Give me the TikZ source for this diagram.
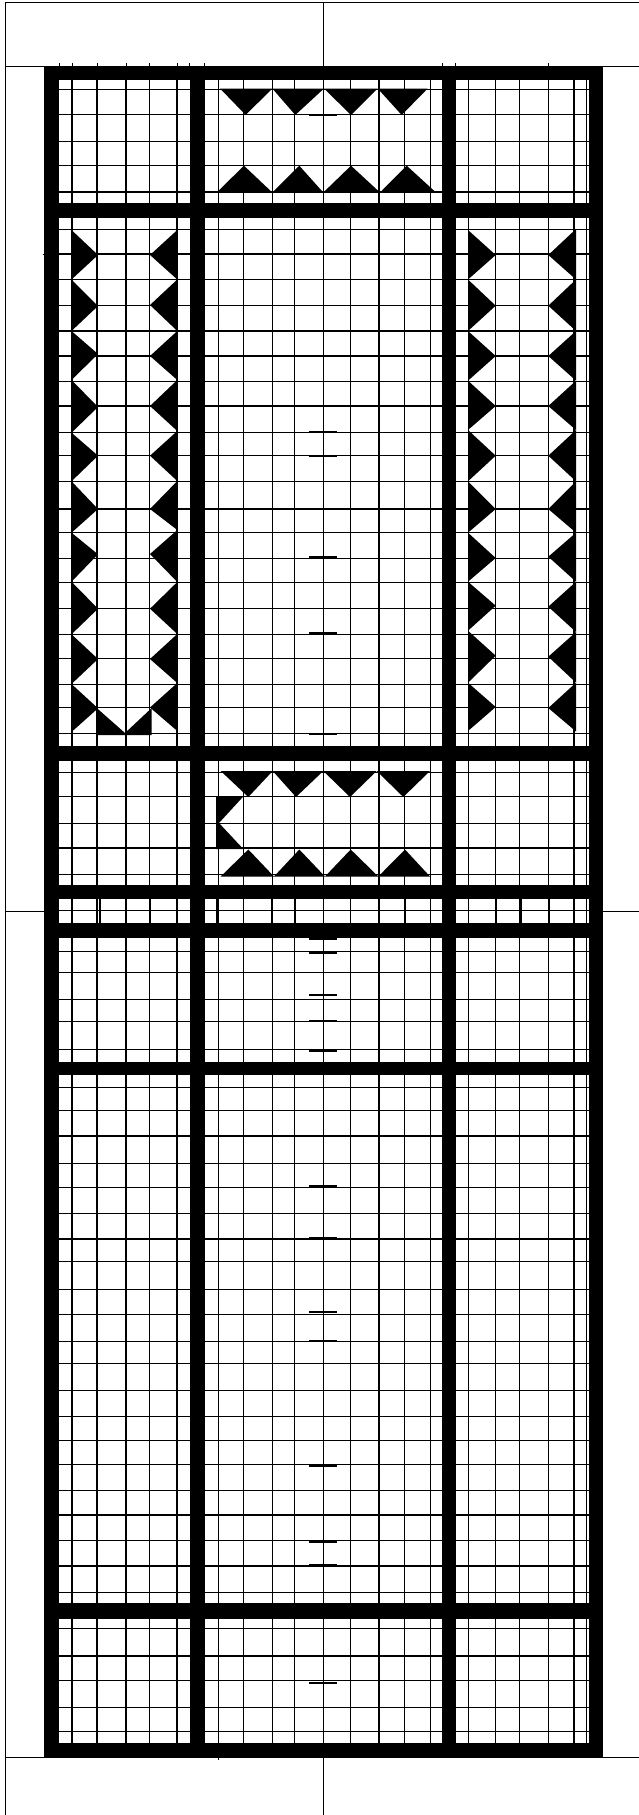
\documentclass[tikz,border=0pt]{standalone}
\usepackage{tikz}

\begin{document}
\begin{tikzpicture}[x=1pt,y=-1pt,
        frameline/.style={draw=black,line width=1.0pt},
        gridline/.style={draw=black,line width=1.3pt},
        band/.style={fill=black},
        wedge/.style={fill=black},
        shorttick/.style={draw=black,line width=1.9pt},
        shifted/.style={draw=black,line width=1.6pt}
      ]
        \useasboundingbox (0,0) rectangle (639,1815);

        % Outer frame and its cross lines.
        \draw[frameline] (639,2.5) -- (5,2.5) -- (5,1815);
        \draw[frameline] (5,66) -- (639,66);
        \draw[frameline] (5,911) -- (44,911);
        \draw[frameline] (603,911) -- (639,911);
        \draw[frameline] (5,1757) -- (639,1757);
        \draw[frameline] (323.3,2.5) -- (323.3,66);
        \draw[frameline] (323.3,1757) -- (323.3,1815);

        % Thin grid, vertical lines.
        \foreach \xv in {72,97,126,149.7,177,218.5,243.7,272.3,294.7,323.3,350.7,379,404.7,430.3,468.3,495.7,519.3,548.3,574,586.7}
          \draw[gridline] (\xv,66) -- (\xv,1757);

        % Thin grid, horizontal lines.
        \foreach \yh in {89.7,114.7,141.7,165.7,192,
            229.3,254,279.3,305.5,331,356,381.3,406,432.7,455.7,481.3,509,532.7,558.7,582.7,608.7,634.3,658.5,684.2,707.2,733.6,
            772.3,796.3,823.7,848,874.3,910.5,
            951.3,972.7,999.7,1021.7,1049.3,
            1087.3,1110.3,1136,1163.7,1187.7,1213.3,1239,1261.8,1289.3,1314.3,1341.7,1363.7,1390.7,1416.7,1440.7,1464.7,1490.7,1515,1540.7,1566,1592.3,
            1628.7,1656,1680.3,1707.3,1731.7}
          \draw[gridline] (59,\yh) -- (589,\yh);

        % Short dark dashes around the centre line.
        \foreach \yt in {115.5,253.5,431.5,456.5,557.3,633,734,939,952.7,995,1021,1051,1186.3,1237.7,1312,1340.7,1466.3,1542.3,1565,1656.5,1683,1731.5}
          \draw[shorttick] (309,\yt) -- (337,\yt);

        % Slightly shifted verticals in the narrow row.
        \foreach \xs in {100,125.5,150,217,272,295,379,405,496.5,521,549,574}
          \draw[shifted] (\xs,898) -- (\xs,924);

        % Little overshoots at the border.
        \foreach \xs in {59,72,97,126,149.7,177,189.7,204,442.7,455.3,548}
          \draw[frameline] (\xs,63) -- (\xs,66);
        \draw[frameline] (42.5,254) -- (44,254);
        \draw[frameline] (218.3,1757) -- (218.3,1759.5);

        % Heavy bars.
        \foreach \xa/\xb in {44/59,189.7/205,442.3/456.3,588.7/602.7}
          \fill[band] (\xa,65.7) rectangle (\xb,1757.3);
        \foreach \ya/\yb in {65.7/80,203.3/218.3,746/760.7,885.3/898.7,923.3/938,1061.5/1075.3,1602.5/1618.7,1742.7/1757.3}
          \fill[band] (44,\ya) rectangle (602.7,\yb);

        % Upper motif.
        \foreach \xa/\xm/\xb in {220/245.7/272.3,272.3/295.3/324,324/351/377.7,377.7/401.7/427.7}
          \fill[wedge] (\xa,88.5) -- (\xm,115) -- (\xb,88.5) -- cycle;
        \foreach \xa/\xm/\xb in {216.7/244/272.3,272.3/299.3/323.3,323.3/351/380,380/406.7/436}
          \fill[wedge] (\xa,192.5) -- (\xm,165.7) -- (\xb,192.5) -- cycle;

        % Left motif.
        \foreach \ya/\ym/\yb in {230/255/279.5,279.5/306/331,331/354/380,380/407/432.7,432.7/455.7/481.3,481.3/509/532.7,532.7/554.3/581.7,581.7/608.7/634.3,634.3/659/684,684/708.3/732}
          \fill[wedge] (71.5,\ya) -- (98,\ym) -- (71.5,\yb) -- cycle;
        \foreach \ya/\ym/\yb in {230/255/279.5,279.5/305/331,331/356/380,380/406/431,431/455.7/481,481/509/530,530/554/582,582/608.7/634,634/659/683,683/707.5/731}
          \fill[wedge] (177.3,\ya) -- (150,\ym) -- (177.3,\yb) -- cycle;
        \fill[wedge] (96.7,708) -- (125,733) -- (151.7,708) -- (151.7,735) -- (96.7,735) -- cycle;

        % Right motif.
        \foreach \ya/\ym/\yb in {230/255/279.5,279.5/305.7/331,331/356/380.7,380.7/406/430,430/455.7/481.3,481.3/509/532.7,532.7/558/581.7,581.7/605.7/630.7,630.7/655.7/682.7,682.7/707/731}
          \fill[wedge] (468,\ya) -- (495.7,\ym) -- (468,\yb) -- cycle;
        \foreach \ya/\ym/\yb in {229/255/279.5,279.5/305.7/331,331/356/380.7,380.7/406/430,430/455.7/481.3,481.3/509/532.7,532.7/556.7/581.7,581.7/606.7/632,632/656.7/682.7,682.7/708/731.5}
          \fill[wedge] (576,\ya) -- (548.3,\ym) -- (576,\yb) -- cycle;

        % Lower motif.
        \foreach \xa/\xm/\xb in {220.7/248.3/272.7,272.7/296/323.3,323.3/350/376.7,376.7/403.3/430}
          \fill[wedge] (\xa,771) -- (\xm,797) -- (\xb,771) -- cycle;
        \foreach \xa/\xm/\xb in {220.7/248.3/274,274/299.3/325,325/350.7/378.3,378.3/405/430}
          \fill[wedge] (\xa,876.5) -- (\xm,849.5) -- (\xb,876.5) -- cycle;
        \fill[wedge] (216,796.5) -- (243.3,796.5) -- (219,823) -- (243.3,849) -- (216,849) -- cycle;
      \end{tikzpicture}
\end{document}
